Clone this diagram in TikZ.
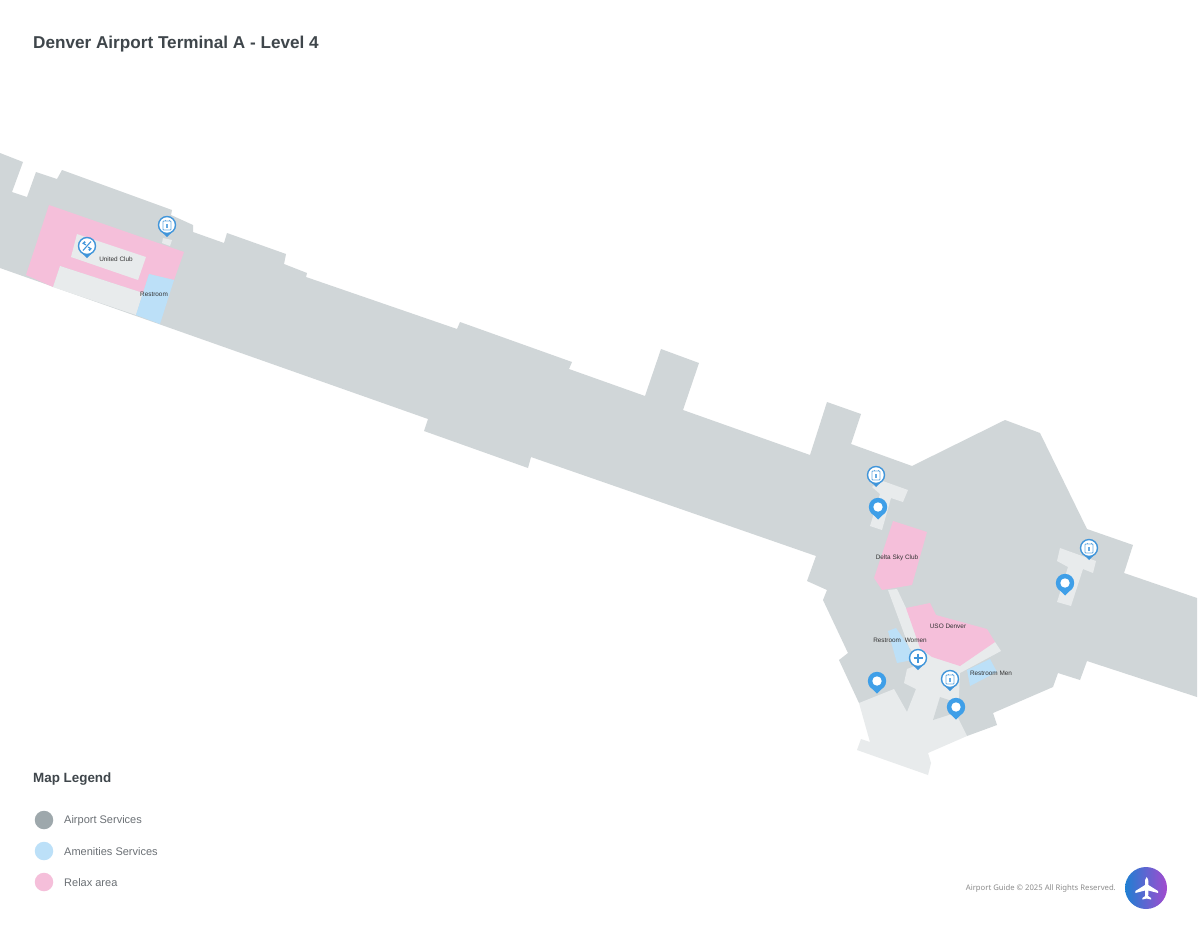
\documentclass[tikz,border=0pt]{standalone}
\usepackage{fontspec}
\setmainfont{Liberation Sans}
\newfontfamily\footfont{Noto Sans}
\usetikzlibrary{positioning}
\definecolor{mgrey}{HTML}{D0D6D8}
\definecolor{mlight}{HTML}{E8EBEC}
\definecolor{mpink}{HTML}{F5BFDA}
\definecolor{mblue}{HTML}{BCE0F8}
\definecolor{mpin}{HTML}{3F9FE8}
\definecolor{mline}{HTML}{4095DA}
\definecolor{mdot}{HTML}{9EA8AC}
\definecolor{mhead}{HTML}{3F464B}
\definecolor{mtext}{HTML}{6B7075}
\definecolor{mlogoa}{HTML}{1F7FD2}
\definecolor{mlogob}{HTML}{A24BCF}
\tikzset{
  place/.style = {inner sep = 0, text = black!80, font = \fontsize{6.4}{8}\selectfont},
  headline/.style = {inner sep = 0, anchor = base west, text = mhead, font = \bfseries},
  legendtext/.style = {inner sep = 0, anchor = west, text = mtext, font = \fontsize{11}{13}\selectfont},
  legenddot/.style = {circle, inner sep = 0, minimum size = 18.5}
}

\begin{document}
\begin{tikzpicture}[x=1pt, y=-1pt]
    \useasboundingbox [fill=white] (0, 0) rectangle (1200, 927);

    % concourse
    \fill [mgrey] (0, 153) -- (23, 162) -- (12, 192) -- (27, 197) -- (36, 172) -- (57, 179) -- (62, 170)
      -- (172, 210) -- (171, 215) -- (193, 225) -- (193, 232) -- (224, 243) -- (227, 233) -- (286, 254)
      -- (284, 264) -- (307, 273) -- (306, 277) -- (457, 329) -- (460, 322) -- (572, 362) -- (569, 369)
      -- (645, 396) -- (661, 349) -- (699, 363) -- (683, 410) -- (810, 455) -- (827, 402) -- (861, 414)
      -- (851, 444) -- (912, 466) -- (1005, 420) -- (1040, 433) -- (1087, 529) -- (1133, 545) -- (1124, 573)
      -- (1197, 598) -- (1197, 697) -- (1087, 661) -- (1080, 680) -- (1058, 673) -- (1053, 687)
      -- (993, 713) -- (997, 725) -- (967, 736) -- (900, 720) -- (859, 703) -- (839, 660) -- (848, 653)
      -- (823, 600) -- (827, 590) -- (807, 581) -- (816, 556) -- (531, 457) -- (528, 468) -- (424, 431)
      -- (428, 419) -- (0, 268) -- cycle;

    % west end
    \fill [mpink] (49, 205) -- (184, 252) -- (174, 280) -- (149, 274) -- (143, 293) -- (60, 266) -- (53, 287) -- (26, 275) -- cycle;
    \fill [mlight] (77, 234) -- (146, 257) -- (138, 280) -- (71, 257) -- cycle;
    \fill [mlight] (60, 266) -- (143, 293) -- (136, 315) -- (53, 287) -- cycle;
    \fill [mblue] (149, 274) -- (174, 280) -- (160, 324) -- (136, 315) -- cycle;
    \fill [mlight] (163, 238) -- (172, 240) -- (170, 246) -- (162, 243) -- cycle;

    % T shaped halls
    \fill [mlight] (872, 487) -- (880, 480) -- (908, 490) -- (903, 502) -- (891, 498) -- (882, 530) -- (870, 526) -- (880, 494) -- cycle;
    \fill [mlight] (1060, 548) -- (1096, 561) -- (1093, 573) -- (1083, 569) -- (1071, 606) -- (1057, 602) -- (1068, 567) -- (1057, 561) -- cycle;

    % east end
    \fill [mblue] (888, 631) -- (896, 628) -- (909, 647) -- (912, 660) -- (897, 663) -- cycle;
    \fill [mblue] (967, 670) -- (990, 659) -- (997, 672) -- (970, 686) -- cycle;
    \fill [mlight] (859, 703) -- (894, 689) -- (907, 712) -- (916, 689) -- (904, 683) -- (907, 669) -- (920, 664)
      -- (909, 647) -- (888, 590) -- (897, 589) -- (906, 608) -- (995, 642) -- (1001, 651) -- (960, 673)
      -- (958, 718) -- (967, 736) -- (928, 753) -- (931, 763) -- (928, 775) -- (857, 750) -- (861, 739) -- (870, 742) -- cycle;
    \fill [mgrey] (940, 697) -- (933, 720) -- (958, 712) -- (958, 703) -- cycle;
    \fill [mpink] (893, 521) -- (927, 532) -- (912, 585) -- (882, 590) -- (874, 578) -- cycle;
    \fill [mpink] (906, 608) -- (930, 603) -- (936, 615) -- (987, 629) -- (995, 642) -- (960, 666) -- (932, 657) -- (920, 648) -- cycle;

    \node (united) [place] at (116, 259.5) {United Club};
    \node (restroom) [place] at (154, 294.5) {Restroom};
    \node (delta) [place] at (897, 557.5) {Delta Sky Club};
    \node (uso) [place] at (948, 626.5) {USO Denver};
    \node (women) [place] at (900, 640.5) {Restroom\hspace{2pt} Women};
    \node (men) [place] at (991, 673.5) {Restroom Men};

    % solid pins
    \foreach \x/\y in {878/507, 1065/583, 877/681, 956/707} {
      \begin{scope}[shift={(\x, \y)}]
        \fill [mpin] (-8, 4.5) -- (0, 12.5) -- (8, 4.5) -- cycle;
        \fill [mpin] (0, 0) circle [radius=9.2];
        \fill [white] (0, 0) circle [radius=4.7];
      \end{scope}
    }

    % outlined pins
    \foreach \x/\y in {167/225, 87/246, 876/475, 1089/548, 918/658, 950/679} {
      \begin{scope}[shift={(\x, \y)}]
        \fill [mline] (-4.5, 7.5) -- (0, 12) -- (4.5, 7.5) -- cycle;
        \draw [mline, fill=white, line width=1.4] (0, 0) circle [radius=8.5];
      \end{scope}
    }

    % pin symbols
    \foreach \x/\y in {167/225, 876/475, 1089/548, 950/679} {
      \begin{scope}[shift={(\x, \y)}]
        \draw [mline!80, line width=0.9, rounded corners=0.8] (-4, -4) rectangle (4, 5);
        \draw [mline!80, line width=0.9] (-2, -5.5) -- (-2, -4) (2, -5.5) -- (2, -4);
        \fill [mline!80] (-1.3, -1) rectangle (1.3, 3);
      \end{scope}
    }
    \draw [mline, line width=2.2] (913.5, 658) -- (922.5, 658) (918, 653.5) -- (918, 662.5);
    \begin{scope}[shift={(87, 246)}]
      \draw [mline, line width=1.1] (-4, 4.5) -- (4, -4.5);
      \draw [mline, line width=1.1] (-4.5, -3) -- (-1, -1) (1, 1) -- (4.5, 3);
      \fill [mline] (-2.6, -3.6) circle [radius=1.3] (2.6, 3.6) circle [radius=1.3];
    \end{scope}

    \node (title) [headline, font=\fontsize{17.15}{20}\selectfont\bfseries] at (33, 48.5) {Denver Airport Terminal A - Level 4};

    % legend
    \node (legend) [headline, font=\fontsize{13.4}{16}\selectfont\bfseries] at (33, 782) {Map Legend};
    \foreach \y/\c/\t/\n in {820/mdot/Airport Services/airport, 851/mblue/Amenities Services/amenity, 882/mpink/Relax area/relax} {
      \node (dot\n) [legenddot, fill=\c] at (44, \y) {};
      \node (text\n) [legendtext] at (64, \y + 0.5) {\t};
    }

    % footer
    \node (rights) [inner sep=0, anchor=east, text=black!45, font=\fontsize{7.7}{9}\selectfont\footfont] at (1116, 888.5) {Airport Guide © 2025 All Rights Reserved.};
    \shade [left color=mlogoa, right color=mlogob, shading angle=90] (1146, 888) circle [radius=21];
    \fill [white] (1146.7, 877) .. controls (1148.2, 878) and (1148.4, 880) .. (1148.4, 885) -- (1158, 891) -- (1158, 893)
      -- (1148.4, 890.5) -- (1148.2, 896) -- (1151, 898) -- (1151, 899.5) -- (1146.7, 898.5) -- (1142.4, 899.5) -- (1142.4, 898)
      -- (1145.2, 896) -- (1145, 890.5) -- (1135.4, 893) -- (1135.4, 891) -- (1145, 885) .. controls (1145, 880) and (1145.2, 878) .. (1146.7, 877) -- cycle;
  \end{tikzpicture}
\end{document}
